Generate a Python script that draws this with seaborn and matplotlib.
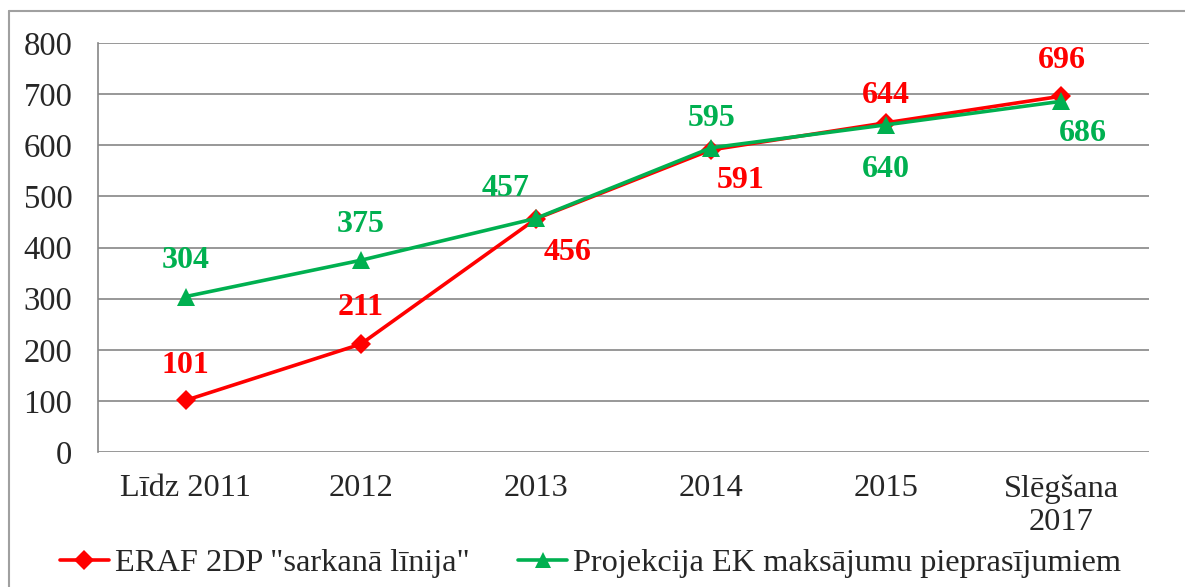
import numpy as np
import pandas as pd
import matplotlib
matplotlib.use("Agg")
import matplotlib.pyplot as plt
from matplotlib.lines import Line2D
import seaborn as sns

categories = ["Līdz 2011", "2012", "2013", "2014", "2015", "Slēgšana\n2017"]
eraf_values = [101, 211, 456, 591, 644, 696]
ek_values = [304, 375, 457, 595, 640, 686]
series_names = ['ERAF 2DP "sarkanā līnija"', "Projekcija EK maksājumu pieprasījumiem"]
y_ticks = [0, 100, 200, 300, 400, 500, 600, 700, 800]

RED = "#FF0000"
GREEN = "#00B050"

# label offsets in pixels (dx, dy) relative to each point
eraf_offsets = [(0, 35), (0, 37), (32, -34), (29, -31), (0, 27), (0, 36)]
ek_offsets = [(0, 36), (0, 36), (-30, 30), (0, 29), (0, -45), (21, -32)]

sns.set_style("white")
plt.rcParams["font.family"] = ["Liberation Serif", "DejaVu Serif"]

pos = np.arange(len(categories))

fig = plt.figure(figsize=(11.85, 5.87), dpi=100)
ax = fig.add_axes([98 / 1185, 1 - 452 / 587, (1149 - 98) / 1185, (452 - 43) / 587])

sns.lineplot(x=pos, y=eraf_values, color=RED, marker="D", linewidth=2.6,
             markersize=10.5, markeredgewidth=0, ax=ax, zorder=3)
sns.lineplot(x=pos, y=ek_values, color=GREEN, marker="^", linewidth=2.6,
             markersize=12.5, markeredgewidth=0, ax=ax, zorder=4)

for vals, offs, col in [(eraf_values, eraf_offsets, RED), (ek_values, ek_offsets, GREEN)]:
    for i, (v, (dx, dy)) in enumerate(zip(vals, offs)):
        ax.annotate(str(v), (i, v), xytext=(dx, dy), textcoords="offset pixels",
                    ha="center", va="center", fontsize=23, fontweight="bold", color=col)

ax.set_xlim(-0.5, len(categories) - 0.5)
ax.set_ylim(0, 800)
ax.set_yticks(y_ticks)
ax.set_yticklabels([str(t) for t in y_ticks], fontsize=23.5)
ax.set_xticks(pos)
ax.set_xticklabels(categories, fontsize=23.3, linespacing=1.2)
ax.set_xticks(np.arange(len(categories) + 1) - 0.5, minor=True)
ax.tick_params(axis="x", which="major", length=0, pad=16)
ax.tick_params(axis="x", which="minor", length=8, width=1.2, color="#868686", direction="out")
ax.tick_params(axis="y", length=8, width=1.2, color="#868686", direction="out", pad=10.5)
ax.yaxis.grid(True, color="#868686", linewidth=1.2)
ax.set_axisbelow(True)
ax.set_xlabel("")
ax.set_ylabel("")
for s in ["top", "right", "bottom"]:
    ax.spines[s].set_visible(False)
ax.spines["left"].set_color("#868686")
ax.spines["left"].set_linewidth(1.2)

handles = [
    Line2D([], [], color=RED, marker="D", linewidth=2.6, markersize=10, markeredgewidth=0),
    Line2D([], [], color=GREEN, marker="^", linewidth=2.6, markersize=11, markeredgewidth=0),
]
fig.legend(handles, series_names, loc="center left", bbox_to_anchor=(60 / 1185, 1 - 563 / 587),
           ncol=2, frameon=False, fontsize=23.3, handlelength=1.5, handletextpad=0.2,
           columnspacing=1.5, borderaxespad=0, borderpad=0)

# chart area border (top and left edges visible)
fig.add_artist(Line2D([9 / 1185, 1], [1 - 11 / 587, 1 - 11 / 587], color="#A0A0A0", linewidth=1.5))
fig.add_artist(Line2D([9 / 1185, 9 / 1185], [0, 1 - 11 / 587], color="#A0A0A0", linewidth=1.5))

fig.savefig("out.png", dpi=100)
